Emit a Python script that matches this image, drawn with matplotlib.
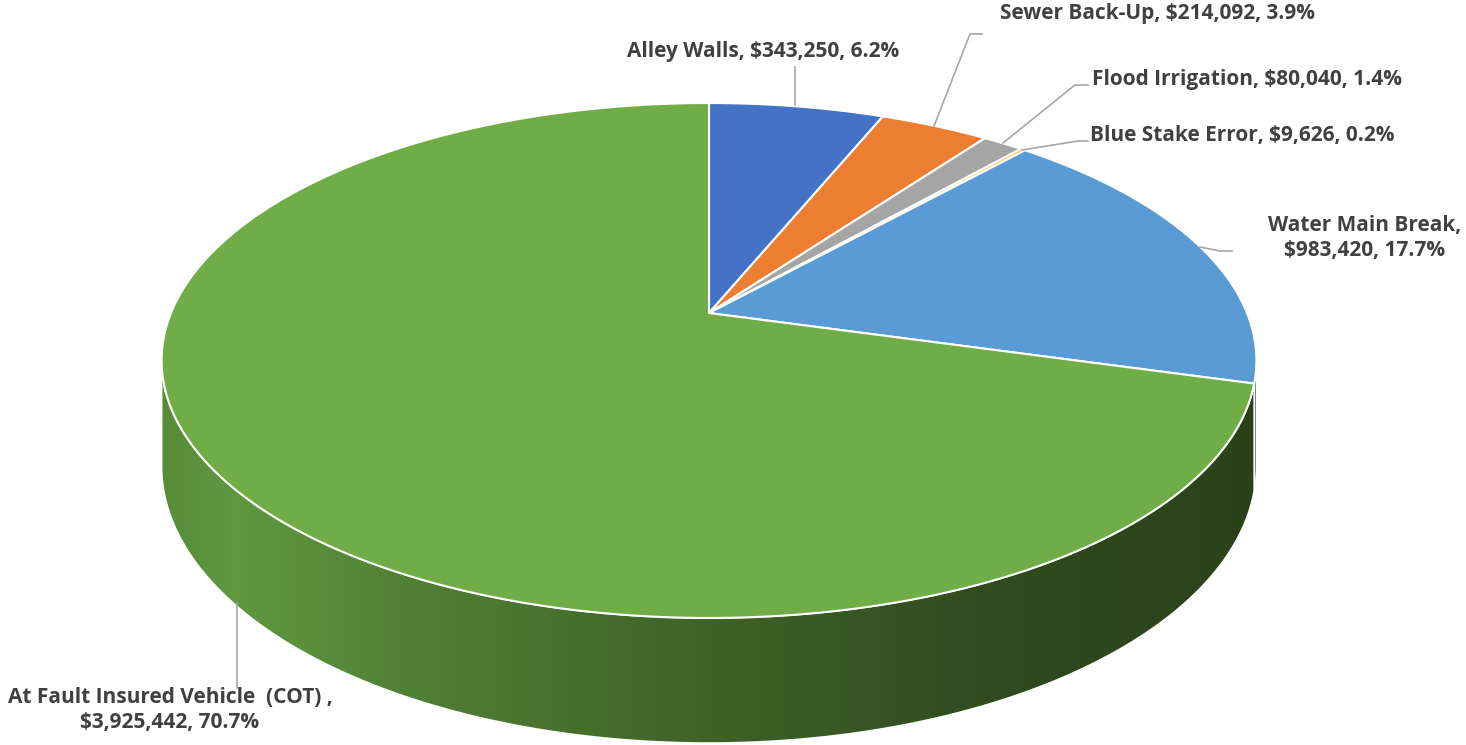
import numpy as np
import matplotlib
matplotlib.use("Agg")
import matplotlib.pyplot as plt
from matplotlib.patches import Polygon
from matplotlib.colors import LinearSegmentedColormap, to_rgb

plt.rcParams['font.family'] = ['Open Sans', 'DejaVu Sans']

# data
categories = ["Alley Walls", "Sewer Back-Up", "Flood Irrigation", "Blue Stake Error",
              "Water Main Break", "At Fault Insured Vehicle  (COT) "]
values = [343250, 214092, 80040, 9626, 983420, 3925442]
colors = ["#4472C4", "#ED7D31", "#A5A5A5", "#FFC000", "#5B9BD5", "#70AD47"]

# geometry of the tilted pie (pixel space, y down)
cx, cy = 709, 313
rx, ry = 538, 248.7
k = 0.1845          # perspective factor
h = 102             # thickness


def top_pt(phi):
    X, Z = np.cos(phi), np.sin(phi)
    w = 1 + k * Z
    return cx + rx * X / w, cy - ry * Z / w


def bot_pt(phi):
    X, Z = np.cos(phi), np.sin(phi)
    w = 1 + k * Z
    return cx + rx * X / w, cy - ry * Z / w + h / w


fig = plt.figure(figsize=(14.66, 7.45), dpi=100)
ax = fig.add_axes([0, 0, 1, 1])
ax.set_xlim(0, 1466)
ax.set_ylim(745, 0)
ax.axis("off")

total = sum(values)
frac = np.array(values) / total
edges = np.deg2rad(90 - 360 * np.concatenate([[0], np.cumsum(frac)]))

# visible front range of the side wall
ext = np.arcsin(-k)
front_lo, front_hi = -np.pi - ext, ext  # [-190.6deg, -10.6deg]

side_cmap = LinearSegmentedColormap.from_list(
    "side", [(0.0, "#578a38"), (0.07, "#5f9840"), (0.24, "#507f34"),
             (0.49, "#3f6328"), (0.76, "#304b1f"), (1.0, "#2a421a")])

for i in range(len(values)):
    a0, a1 = edges[i], edges[i + 1]     # a0 > a1 (clockwise)
    lo, hi = max(a1, front_lo), min(a0, front_hi)
    if lo >= hi:
        continue
    ph = np.linspace(hi, lo, 200)
    tx, ty = top_pt(ph)
    bx, by = bot_pt(ph)
    pts = np.column_stack([np.concatenate([tx, bx[::-1]]), np.concatenate([ty, by[::-1]])])
    if colors[i] == "#70AD47":
        poly = Polygon(pts, closed=True, facecolor="none", edgecolor="white", lw=1.2, zorder=3)
        ax.add_patch(poly)
        grad = np.linspace(0, 1, 512).reshape(1, -1)
        im = ax.imshow(grad, cmap=side_cmap, extent=(155, 1262, 750, 300), aspect="auto", zorder=2)
        im.set_clip_path(poly)
    else:
        c = np.array(to_rgb(colors[i])) * 0.55
        ax.add_patch(Polygon(pts, closed=True, facecolor=c, edgecolor="white", lw=1.0, zorder=2))

# top face
for i in range(len(values)):
    ph = np.linspace(edges[i], edges[i + 1], max(int(abs(edges[i] - edges[i + 1]) * 80), 4))
    tx, ty = top_pt(ph)
    pts = np.column_stack([np.concatenate([[cx], tx]), np.concatenate([[cy], ty])])
    ax.add_patch(Polygon(pts, closed=True, facecolor=colors[i], edgecolor="white",
                         lw=1.5, joinstyle="round", zorder=4))

# labels
lbl = [f"{c}, ${v:,}, {f * 100:.1f}%" for c, v, f in zip(categories, values, frac)]
tc = "#404040"
fs = 15
lc = "#A6A6A6"

ax.text(627, 52, lbl[0], ha="left", va="center", fontsize=fs, fontweight="bold", color=tc)
ax.plot([795, 795], [67, 105], color=lc, lw=1.2, zorder=5)

ax.text(1000, 14, lbl[1], ha="left", va="center", fontsize=fs, fontweight="bold", color=tc)
ax.plot([982, 970, 934], [34, 34, 126], color=lc, lw=1.2, zorder=5)

ax.text(1092, 79, lbl[2], ha="left", va="center", fontsize=fs, fontweight="bold", color=tc)
ax.plot([1088, 1075, 1003], [85, 85, 143], color=lc, lw=1.2, zorder=5)

ax.text(1090, 135, lbl[3], ha="left", va="center", fontsize=fs, fontweight="bold", color=tc)
ax.plot([1088, 1078, 1022], [141, 141, 150], color=lc, lw=1.2, zorder=5)

ax.text(1365, 238, f"{categories[4]},\n${values[4]:,}, {frac[4] * 100:.1f}%", ha="center",
        va="center", fontsize=fs, fontweight="bold", color=tc, linespacing=1.25)
ax.plot([1232, 1220, 1200], [251, 251, 247], color=lc, lw=1.2, zorder=5)

ax.text(170, 710, f"{categories[5]},\n${values[5]:,}, {frac[5] * 100:.1f}%", ha="center",
        va="center", fontsize=fs, fontweight="bold", color=tc, linespacing=1.25)
ax.plot([237, 237], [603, 688], color=lc, lw=1.2, zorder=5)

fig.savefig("out.png", dpi=100)
